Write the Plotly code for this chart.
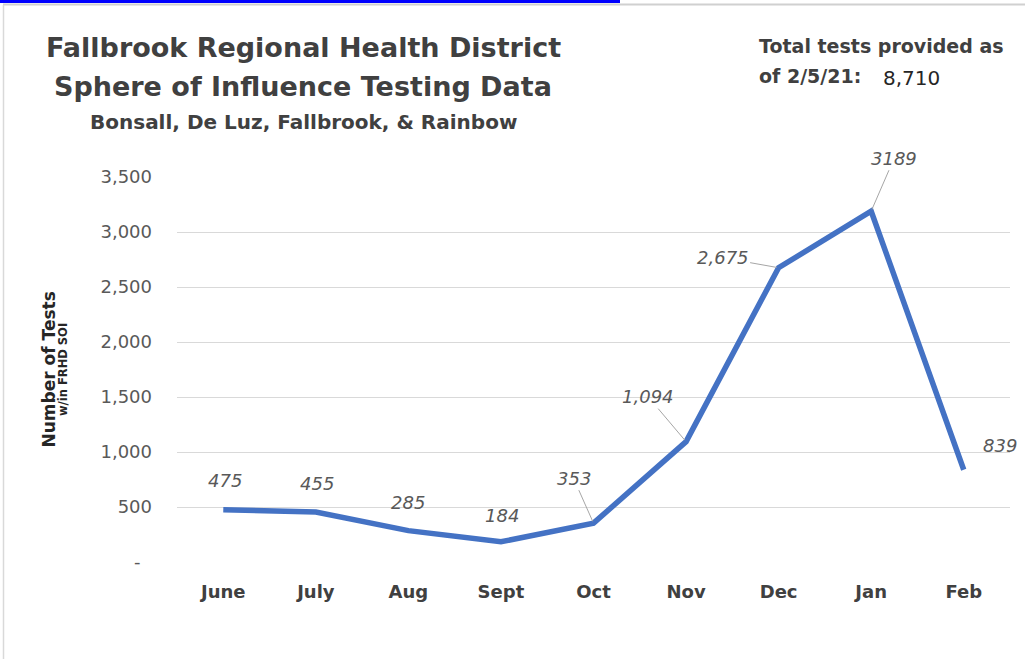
import plotly.graph_objects as go

# ---- data ----
months = ["June", "July", "Aug", "Sept", "Oct", "Nov", "Dec", "Jan", "Feb"]
tests = [475, 455, 285, 184, 353, 1094, 2675, 3189, 839]
value_labels = ["475", "455", "285", "184", "353", "1,094", "2,675", "3189", "839"]
y_tickvals = [0, 500, 1000, 1500, 2000, 2500, 3000, 3500]
y_ticktext = ["-  ", "500", "1,000", "1,500", "2,000", "2,500", "3,000", "3,500"]

# ---- layout geometry (pixels) ----
W, H = 1025, 659
L, R, T, B = 177, 15, 177, 97
PW, PH = W - L - R, H - T - B

def px(x):
    return (x - L) / PW

def py(y):
    return (H - B - y) / PH

FONT = "DejaVu Sans"
DARK = "#404040"
GRAY = "#595959"
BLUE = "#4472C4"

fig = go.Figure()
fig.add_trace(go.Scatter(
    x=months, y=tests, mode="lines",
    line=dict(color=BLUE, width=5.5),
    hoverinfo="skip", showlegend=False,
))

annotations = []
# label offsets: (dx, dy, leader)
label_style = [
    (2, -29, False), (1, -28, False), (0, -28, False), (1, -26, False),
    (-20, -45, True), (-38, -45, True), (-56, -10, True), (23, -53, True),
    (36, -24, False),
]
LABEL_FONT = dict(family=FONT, size=18, color=GRAY, style="italic")
for m, v, t, (dx, dy, lead) in zip(months, tests, value_labels, label_style):
    if lead:
        annotations.append(dict(
            x=m, y=v, xref="x", yref="y", text=t, showarrow=True,
            ax=dx, ay=dy, arrowhead=0, arrowwidth=1, arrowcolor="#a6a6a6",
            standoff=2, font=LABEL_FONT,
        ))
    else:
        annotations.append(dict(
            x=m, y=v, xref="x", yref="y", text=t, showarrow=False,
            xshift=dx, yshift=-dy, font=LABEL_FONT,
        ))

# titles
annotations += [
    dict(x=px(303), y=py(47), xref="paper", yref="paper", showarrow=False,
         text="<b>Fallbrook Regional Health District</b>", xanchor="center", yanchor="middle",
         font=dict(family=FONT, size=27, color=DARK)),
    dict(x=px(303), y=py(87), xref="paper", yref="paper", showarrow=False,
         text="<b>Sphere of Influence Testing Data</b>", xanchor="center", yanchor="middle",
         font=dict(family=FONT, size=27, color=DARK)),
    dict(x=px(303), y=py(122), xref="paper", yref="paper", showarrow=False,
         text="<b>Bonsall, De Luz, Fallbrook, &amp; Rainbow</b>", xanchor="center", yanchor="middle",
         font=dict(family=FONT, size=20, color=DARK)),
    dict(x=px(757), y=py(46), xref="paper", yref="paper", showarrow=False,
         text="<b>Total tests provided as</b>", xanchor="left", yanchor="middle",
         font=dict(family=FONT, size=19, color=DARK)),
    dict(x=px(757), y=py(76), xref="paper", yref="paper", showarrow=False,
         text="<b>of 2/5/21:</b>", xanchor="left", yanchor="middle",
         font=dict(family=FONT, size=19, color=DARK)),
    dict(x=px(881), y=py(78), xref="paper", yref="paper", showarrow=False,
         text="8,710", xanchor="left", yanchor="middle",
         font=dict(family=FONT, size=20, color="#262626")),
    dict(x=px(48.5), y=py(370), xref="paper", yref="paper", showarrow=False,
         text="<b>Number of Tests</b>",
         textangle=-90, xanchor="center", yanchor="middle",
         font=dict(family=FONT, size=17, color="#262626")),
    dict(x=px(63), y=py(370), xref="paper", yref="paper", showarrow=False,
         text="<b>w/in FRHD SOI</b>",
         textangle=-90, xanchor="center", yanchor="middle",
         font=dict(family=FONT, size=11.5, color="#262626")),
]

shapes = [
    dict(type="line", xref="paper", yref="paper", x0=px(3), x1=px(1025), y0=py(4.5), y1=py(4.5),
         line=dict(color="#d0d0d0", width=2)),
    dict(type="rect", xref="paper", yref="paper", x0=px(0), x1=px(620), y0=py(0), y1=py(3),
         line=dict(width=0), fillcolor="#0000ff"),
    dict(type="line", xref="paper", yref="paper", x0=px(3.5), x1=px(3.5), y0=py(5), y1=py(659),
         line=dict(color="#d9d9d9", width=1.5)),
]

fig.update_layout(
    width=W, height=H,
    margin=dict(l=L, r=R, t=T, b=B),
    paper_bgcolor="white", plot_bgcolor="white",
    annotations=annotations, shapes=shapes,
    showlegend=False,
    xaxis=dict(
        type="category", range=[-0.5, 8.5], showgrid=False, zeroline=False,
        showline=False, ticks="", ticklabelstandoff=17,
        tickfont=dict(family=FONT, size=18, color=DARK, weight="bold"),
        fixedrange=True,
    ),
    yaxis=dict(
        range=[0, 3500], tickvals=y_tickvals, ticktext=y_ticktext,
        showgrid=True, gridcolor="#d9d9d9", gridwidth=1, zeroline=False,
        showline=False, ticks="", ticklabelstandoff=24,
        tickfont=dict(family=FONT, size=18, color=GRAY),
        fixedrange=True,
    ),
)

fig.write_html("out.html", config={"displayModeBar": False},
               post_script="document.body.style.margin='0px';")
